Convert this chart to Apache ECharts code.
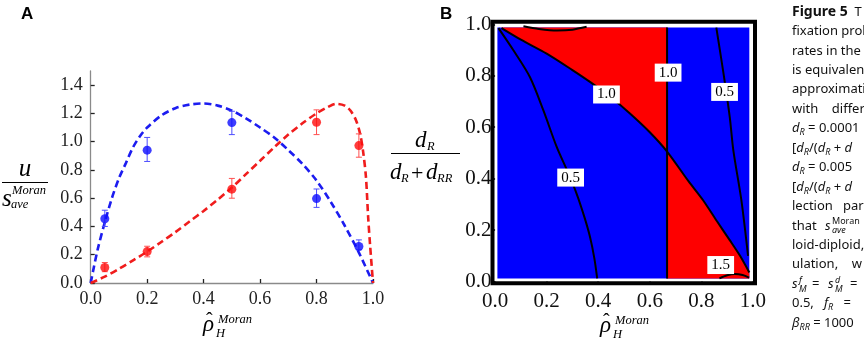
<!DOCTYPE html>
<html><head><meta charset="utf-8">
<script src="https://cdn.jsdelivr.net/npm/echarts@6/dist/echarts.min.js"></script>
<style>html,body{margin:0;padding:0;background:#fff}#c{width:864px;height:346px}</style>
</head><body><div id="c"></div>
<script>
// ---------- Panel A data ----------
const pointX = [0.05, 0.2, 0.5, 0.8, 0.95];
const blueY  = [0.455, 0.94, 1.135, 0.597, 0.258];
const blueLo = [0.40, 0.86, 1.05, 0.535, 0.235];
const blueHi = [0.515, 1.03, 1.215, 0.665, 0.305];
const redY   = [0.11, 0.222, 0.664, 1.137, 0.972];
const redLo  = [0.08, 0.185, 0.60, 1.05, 0.89];
const redHi  = [0.145, 0.26, 0.74, 1.225, 1.055];
const blueCurve = [[0,0],[0.01,0.1],[0.025,0.24],[0.05,0.43],[0.075,0.6],[0.1,0.74],[0.125,0.85],[0.15,0.96],[0.175,1.04],[0.2,1.1],[0.25,1.185],[0.3,1.237],[0.35,1.262],[0.4,1.27],[0.45,1.255],[0.5,1.22],[0.55,1.165],[0.6,1.1],[0.65,1.03],[0.7,0.94],[0.75,0.843],[0.8,0.725],[0.85,0.575],[0.9,0.405],[0.95,0.215],[1.0,0]];
const redCurve = [[0,0],[0.05,0.045],[0.1,0.1],[0.15,0.16],[0.2,0.222],[0.25,0.29],[0.3,0.36],[0.35,0.435],[0.4,0.51],[0.45,0.59],[0.5,0.675],[0.55,0.77],[0.6,0.865],[0.65,0.96],[0.7,1.05],[0.75,1.13],[0.8,1.2],[0.84,1.245],[0.87,1.268],[0.9,1.255],[0.92,1.22],[0.94,1.15],[0.955,1.05],[0.965,0.93],[0.975,0.75],[0.983,0.46],[0.99,0.26],[1.0,0]];
const tickAX = [0, 0.2, 0.4, 0.6, 0.8, 1.0];
const tickAY = [0, 0.2, 0.4, 0.6, 0.8, 1.0, 1.2, 1.4];

// ---------- Panel B data ----------
const tickB = [0, 0.2, 0.4, 0.6, 0.8, 1.0];
const regionX = [0.009, 0.986];
const regionY = [0.012, 0.987];
const splitX = 0.667;
const boundary10 = [[0.025,0.985],[0.1,0.94],[0.2,0.886],[0.3,0.822],[0.368,0.776],[0.45,0.715],[0.523,0.653],[0.6,0.58],[0.667,0.505],[0.75,0.39],[0.806,0.317],[0.86,0.235],[0.91,0.161],[0.95,0.1],[0.986,0.035]];
const left05 = [[0.013,0.985],[0.071,0.899],[0.135,0.795],[0.187,0.666],[0.239,0.523],[0.28,0.43],[0.316,0.342],[0.345,0.255],[0.368,0.174],[0.385,0.09],[0.396,0.012]];
const right05 = [[0.858,0.987],[0.884,0.821],[0.91,0.64],[0.924,0.51],[0.955,0.317],[0.981,0.10]];
const top15 = [[0.11,0.992],[0.17,0.982],[0.24,0.976],[0.3,0.979],[0.355,0.99]];
const bottom15 = [[0.87,0.012],[0.9,0.024],[0.93,0.029],[0.96,0.025],[0.985,0.015]];
const labelX = [0.432, 0.671, 0.89, 0.293, 0.875];
const labelY = [0.727, 0.812, 0.737, 0.404, 0.064];
const labelText = ['1.0', '1.0', '0.5', '0.5', '1.5'];

// ---------- build ----------
const chart = echarts.init(document.getElementById('c'), null, {renderer: 'canvas'});
const fmt = v => Number(v).toFixed(1);
const SERIF = '"Liberation Serif", "DejaVu Serif", serif';
const SANS = '"Noto Sans", "Open Sans", sans-serif';

const kIdx = boundary10.findIndex(p => p[0] === splitX);
const blueRect = [[regionX[0], regionY[0]], [regionX[1], regionY[0]], [regionX[1], regionY[1]], [regionX[0], regionY[1]]];
const redTop = boundary10.slice(0, kIdx + 1).concat([[splitX, regionY[1]], [boundary10[0][0], regionY[1]]]);
const redBottom = boundary10.slice(kIdx).concat([[regionX[1], regionY[0]], [splitX, regionY[0]]]);
const vertical10 = [[splitX, regionY[0]], [splitX, regionY[1]]];

function polySeries(points, color, z) {
  return {
    type: 'custom', xAxisIndex: 1, yAxisIndex: 1, silent: true, z: z, animation: false,
    data: [[points[0][0], points[0][1]]],
    renderItem: (p, api) => ({type: 'polygon', shape: {points: points.map(pt => api.coord(pt))}, style: {fill: color}})
  };
}
function contourSeries(points) {
  return {type: 'line', xAxisIndex: 1, yAxisIndex: 1, data: points, symbol: 'none', showSymbol: false, smooth: 0.3,
    lineStyle: {color: '#000', width: 2}, z: 5, silent: true, animation: false};
}
function errSeries(lo, hi, color) {
  return {
    type: 'custom', xAxisIndex: 0, yAxisIndex: 0, silent: true, z: 3, animation: false,
    encode: {x: 0, y: [1, 2]},
    data: pointX.map((x, i) => [x, lo[i], hi[i]]),
    renderItem: (p, api) => {
      const a = api.coord([api.value(0), api.value(1)]);
      const b = api.coord([api.value(0), api.value(2)]);
      const w = 3, st = {stroke: color, lineWidth: 1};
      return {type: 'group', children: [
        {type: 'line', shape: {x1: a[0], y1: a[1], x2: b[0], y2: b[1]}, style: st},
        {type: 'line', shape: {x1: a[0] - w, y1: a[1], x2: a[0] + w, y2: a[1]}, style: st},
        {type: 'line', shape: {x1: b[0] - w, y1: b[1], x2: b[0] + w, y2: b[1]}, style: st}
      ]};
    }
  };
}

function T(x, y, text, font, extra) {
  return Object.assign({type: 'text', x: x, y: y, silent: true,
    style: Object.assign({text: text, font: font, fill: '#111', textAlign: 'left', textVerticalAlign: 'middle', align: 'left', verticalAlign: 'middle'}, extra || {})});
}
const capY = i => 12 + 19.44 * i;
const capRich = {
  b: {font: 'bold 14px ' + SANS, fill: '#111'},
  i: {font: 'italic 13px ' + SANS, fill: '#111'},
  sub: {font: 'italic 9px ' + SANS, fill: '#111', padding: [8, 0, 0, 0]}
};
const capLines = [
  '{b|Figure 5}  T',
  'fixation prob',
  'rates in the M',
  'is equivalent',
  'approximation',
  'with    differ',
  '{i|d}{sub|R} = 0.0001',
  '[{i|d}{sub|R}/({i|d}{sub|R} + {i|d}',
  '{i|d}{sub|R} = 0.005',
  '[{i|d}{sub|R}/({i|d}{sub|R} + {i|d}',
  'lection   para',
  '',
  'loid-diploid,',
  'ulation,    w',
  '',
  '0.5,   {i|f}{sub|R}   =',
  '{i|β}{sub|RR} = 1000'
];
const graphics = [];
capLines.forEach((s, i) => {
  if (!s) return;
  graphics.push(T(792, capY(i), s, '13px ' + SANS, {rich: capRich}));
});
graphics.push(T(792, capY(11), 'that', '13px ' + SANS));
graphics.push(T(825, capY(11), 's', 'italic 13px ' + SANS));
graphics.push(T(832, capY(11) - 4, 'Moran', '9px ' + SANS));
graphics.push(T(832, capY(11) + 5, 'ave', 'italic 9px ' + SANS));
graphics.push(T(792, capY(14), 's', 'italic 13px ' + SANS));
graphics.push(T(799, capY(14) - 4, 'f', 'italic 9px ' + SANS));
graphics.push(T(799, capY(14) + 5, 'M', 'italic 9px ' + SANS));
graphics.push(T(812, capY(14), '=', '13px ' + SANS));
graphics.push(T(828, capY(14), 's', 'italic 13px ' + SANS));
graphics.push(T(835, capY(14) - 4, 'd', 'italic 9px ' + SANS));
graphics.push(T(835, capY(14) + 5, 'M', 'italic 9px ' + SANS));
graphics.push(T(850, capY(14), '=', '13px ' + SANS));

graphics.push(T(21, 14, 'A', 'bold 17px "Liberation Sans", Arial, sans-serif', {fill: '#000'}));
graphics.push(T(440, 14, 'B', 'bold 17px "Liberation Sans", Arial, sans-serif', {fill: '#000'}));

// Panel A y label
graphics.push(T(25, 169, 'u', 'italic 25px ' + SERIF, {textAlign: 'center', align: 'center', fill: '#000'}));
graphics.push({type: 'line', silent: true, shape: {x1: 2, y1: 182.5, x2: 48, y2: 182.5}, style: {stroke: '#000', lineWidth: 1.2}});
graphics.push(T(2, 199, 's', 'italic 25px ' + SERIF, {fill: '#000'}));
graphics.push(T(12, 191, 'Moran', 'italic 12.5px ' + SERIF, {fill: '#000'}));
graphics.push(T(11, 205, 'ave', 'italic 12.5px ' + SERIF, {fill: '#000'}));
// rho-hat labels
function rhoLabel(x0, ym) {
  graphics.push(T(x0, ym, 'ρ', 'italic 23px ' + SERIF, {fill: '#000'}));
  graphics.push(T(x0 + 3, ym - 3, 'ˆ', '20px ' + SERIF, {fill: '#000'}));
  graphics.push(T(x0 + 15, ym - 5, 'Moran', 'italic 12.5px ' + SERIF, {fill: '#000'}));
  graphics.push(T(x0 + 13, ym + 9, 'H', 'italic 12.5px ' + SERIF, {fill: '#000'}));
}
rhoLabel(203, 325);
rhoLabel(600, 326);
// Panel B y label
graphics.push(T(415, 141, 'd', 'italic 23px ' + SERIF, {fill: '#000'}));
graphics.push(T(427, 147, 'R', 'italic 12.5px ' + SERIF, {fill: '#000'}));
graphics.push({type: 'line', silent: true, shape: {x1: 391, y1: 153.5, x2: 460, y2: 153.5}, style: {stroke: '#000', lineWidth: 1.2}});
graphics.push(T(390, 173, 'd', 'italic 23px ' + SERIF, {fill: '#000'}));
graphics.push(T(401, 179, 'R', 'italic 12.5px ' + SERIF, {fill: '#000'}));
graphics.push(T(411, 174, '+', '22px ' + SERIF, {fill: '#000'}));
graphics.push(T(426, 173, 'd', 'italic 23px ' + SERIF, {fill: '#000'}));
graphics.push(T(437, 179, 'RR', 'italic 12.5px ' + SERIF, {fill: '#000'}));

const option = {
  animation: false,
  backgroundColor: '#fff',
  grid: [
    {left: 90.7, right: 491, top: 71, bottom: 63, containLabel: false, outerBoundsMode: 'none'},
    {left: 492.5, right: 109, top: 21.7, bottom: 62.7, containLabel: false, outerBoundsMode: 'none',
     show: true, borderColor: '#000', borderWidth: 4, backgroundColor: '#fff'}
  ],
  xAxis: [
    {gridIndex: 0, type: 'value', min: 0, max: 1, interval: 0.2,
     axisLine: {show: true, onZero: false, lineStyle: {color: '#8a8a8a', width: 1.3}},
     axisTick: {show: true, inside: true, length: 4, lineStyle: {color: '#222', width: 1.3}},
     axisLabel: {fontFamily: SERIF, fontSize: 18, color: '#222', margin: 7, formatter: fmt},
     splitLine: {show: false}},
    {gridIndex: 1, type: 'value', min: -0.01, max: 1.008,
     axisLine: {show: false},
     axisTick: {show: true, customValues: tickB, length: 3, lineStyle: {color: '#000', width: 1.5}},
     axisLabel: {customValues: tickB, fontFamily: SERIF, fontSize: 21, color: '#111', margin: 8, formatter: fmt},
     splitLine: {show: false}}
  ],
  yAxis: [
    {gridIndex: 0, type: 'value', min: 0, max: 1.5,
     axisLine: {show: true, onZero: false, lineStyle: {color: '#8a8a8a', width: 1.3}},
     axisTick: {show: true, inside: true, length: 4, customValues: tickAY, lineStyle: {color: '#222', width: 1.3}},
     axisLabel: {customValues: tickAY, fontFamily: SERIF, fontSize: 18, color: '#222', margin: 8, formatter: fmt},
     splitLine: {show: false}},
    {gridIndex: 1, type: 'value', min: -0.007, max: 1.01,
     axisLine: {show: false},
     axisTick: {show: true, customValues: tickB, length: 3, lineStyle: {color: '#000', width: 1.5}},
     axisLabel: {customValues: tickB, fontFamily: SERIF, fontSize: 21, color: '#111', margin: 1, formatter: fmt},
     splitLine: {show: false}}
  ],
  series: [
    {type: 'line', xAxisIndex: 0, yAxisIndex: 0, data: blueCurve, symbol: 'none', smooth: 0.3,
     lineStyle: {color: '#1c1cf0', width: 2.6, type: [7, 4]}, z: 2, silent: true},
    {type: 'line', xAxisIndex: 0, yAxisIndex: 0, data: redCurve, symbol: 'none', smooth: 0.3,
     lineStyle: {color: '#f01c1c', width: 2.6, type: [7, 4]}, z: 2, silent: true},
    errSeries(blueLo, blueHi, '#4d4dff'),
    errSeries(redLo, redHi, '#ff5050'),
    {type: 'scatter', xAxisIndex: 0, yAxisIndex: 0, data: pointX.map((x, i) => [x, blueY[i]]),
     symbolSize: 9, itemStyle: {color: '#0d0dff'}, z: 4, silent: true},
    {type: 'scatter', xAxisIndex: 0, yAxisIndex: 0, data: pointX.map((x, i) => [x, redY[i]]),
     symbolSize: 9, itemStyle: {color: '#ff0d0d'}, z: 4, silent: true},
    polySeries(blueRect, '#0000fe', 1),
    polySeries(redTop, '#fe0000', 2),
    polySeries(redBottom, '#fe0000', 2),
    contourSeries(boundary10),
    contourSeries(vertical10),
    contourSeries(left05),
    contourSeries(right05),
    contourSeries(top15),
    contourSeries(bottom15),
    {type: 'custom', xAxisIndex: 1, yAxisIndex: 1, z: 10, silent: true, animation: false,
     data: labelX.map((x, i) => [x, labelY[i], labelText[i]]),
     renderItem: (p, api) => {
       const c = api.coord([api.value(0), api.value(1)]);
       return {type: 'text', x: c[0], y: c[1], style: {
         text: labelText[p.dataIndex], font: '15px ' + SERIF, fill: '#000',
         textAlign: 'center', textVerticalAlign: 'middle', align: 'center', verticalAlign: 'middle',
         backgroundColor: '#fff', padding: [2, 4, 1, 4]}};
     }}
  ],
  graphic: graphics
};
chart.setOption(option);
</script></body></html>
